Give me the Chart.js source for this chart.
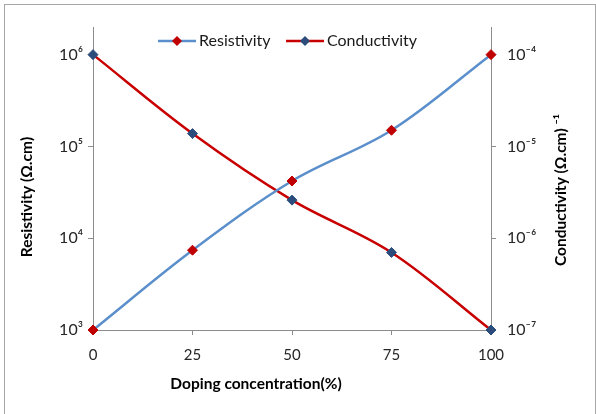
<!DOCTYPE html>
<html>
<head>
<meta charset="utf-8">
<script src="https://cdn.jsdelivr.net/npm/chart.js@4.4.1/dist/chart.umd.min.js"></script>
<style>
  html, body { margin: 0; padding: 0; background: #fff; }
  #frame { position: absolute; left: 4px; top: 4px; width: 590px; height: 420px; border: 1px solid #a6a6a6; }
  #wrap { position: absolute; left: 0; top: 0; width: 596px; height: 414px; }
</style>
</head>
<body>
<div id="frame"></div>
<div id="wrap"><canvas id="chart" width="596" height="414"></canvas></div>
<script>
"use strict";

// doping concentration (%)
const doping = [0, 25, 50, 75, 100];
// values
const resistivity = [1e3, 7.4e3, 4.2e4, 1.5e5, 1e6];
const conductivity = [1e-4, 1.38e-5, 2.6e-6, 7.0e-7, 1e-7];

const leftTicks = [1e3, 1e4, 1e5, 1e6];
const leftLabels = ["10³", "10⁴", "10⁵", "10⁶"];
const rightTicks = [1e-7, 1e-6, 1e-5, 1e-4];
const rightLabels = ["10⁻⁷", "10⁻⁶", "10⁻⁵", "10⁻⁴"];
const xTicks = [0, 25, 50, 75, 100];

const blueLine = "#5b8fcb";
const redLine = "#c80000";
const redMark = "#c00000";
const blueMark = "#2c4d7c";
const axisGray = "#8c8c8c";
const FONT = "Lato, 'Open Sans', 'Noto Sans', sans-serif";

// legend + axis titles drawn where the original had them (floating over plot)
const overlay = {
    id: "overlay",
    afterDraw(chart) {
        const ctx = chart.ctx;
        ctx.save();
        // legend
        const items = [
            { x: 158, text: "Resistivity", line: blueLine, mark: redMark },
            { x: 286, text: "Conductivity", line: redLine, mark: blueMark }
        ];
        const ly = 41;
        items.forEach(it => {
            ctx.strokeStyle = it.line;
            ctx.lineWidth = 2.5;
            ctx.beginPath();
            ctx.moveTo(it.x, ly);
            ctx.lineTo(it.x + 38, ly);
            ctx.stroke();
            ctx.fillStyle = it.mark;
            ctx.beginPath();
            ctx.moveTo(it.x + 19, ly - 5);
            ctx.lineTo(it.x + 24, ly);
            ctx.lineTo(it.x + 19, ly + 5);
            ctx.lineTo(it.x + 14, ly);
            ctx.closePath();
            ctx.fill();
            ctx.fillStyle = "#1a1a1a";
            ctx.font = "16px " + FONT;
            ctx.textBaseline = "middle";
            ctx.textAlign = "left";
            ctx.fillText(it.text, it.x + 41, ly);
        });

        // axis titles
        ctx.fillStyle = "#000";
        ctx.font = "bold 15.5px " + FONT;
        ctx.textAlign = "center";
        ctx.textBaseline = "middle";
        ctx.fillText("Doping concentration(%)", 256, 384);

        ctx.save();
        ctx.translate(27, 197);
        ctx.rotate(-Math.PI / 2);
        ctx.fillText("Resistivity (Ω.cm)", 0, 0);
        ctx.restore();

        ctx.save();
        ctx.translate(561, 190);
        ctx.rotate(-Math.PI / 2);
        ctx.fillText("Conductivity (Ω.cm) ⁻¹", 0, 0);
        ctx.restore();

        ctx.restore();
    }
};

new Chart(document.getElementById("chart").getContext("2d"), {
    type: "line",
    data: {
        labels: doping,
        datasets: [
            {
                label: "Resistivity",
                data: doping.map((d, i) => ({ x: d, y: resistivity[i] })),
                yAxisID: "y",
                borderColor: blueLine,
                borderWidth: 2.5,
                pointStyle: "rectRot",
                pointRadius: 5,
                pointBackgroundColor: redMark,
                pointBorderColor: redMark,
                pointBorderWidth: 1,
                tension: 0.35,
                clip: false,
                fill: false
            },
            {
                label: "Conductivity",
                data: doping.map((d, i) => ({ x: d, y: conductivity[i] })),
                yAxisID: "y2",
                borderColor: redLine,
                borderWidth: 2.5,
                pointStyle: "rectRot",
                pointRadius: 5,
                pointBackgroundColor: blueMark,
                pointBorderColor: blueMark,
                pointBorderWidth: 1,
                tension: 0.35,
                clip: false,
                fill: false
            }
        ]
    },
    options: {
        responsive: false,
        animation: false,
        layout: { padding: { top: 27, left: 0, right: 0, bottom: 0 } },
        plugins: {
            legend: { display: false },
            tooltip: { enabled: false }
        },
        scales: {
            x: {
                type: "linear",
                min: 0,
                max: 100,
                afterBuildTicks: s => { s.ticks = xTicks.map(v => ({ value: v })); },
                afterFit: s => { s.height = 84; },
                border: { display: true, color: axisGray, width: 1 },
                grid: { drawOnChartArea: false, drawTicks: true, tickLength: 5, color: axisGray },
                ticks: { color: "#262626", font: { family: FONT, size: 15 }, padding: 11, maxRotation: 0 }
            },
            y: {
                type: "logarithmic",
                position: "left",
                min: 1e3,
                max: 2e6,
                afterBuildTicks: s => { s.ticks = leftTicks.map(v => ({ value: v })); },
                afterFit: s => { s.width = 93; },
                border: { display: true, color: axisGray, width: 1 },
                grid: { drawOnChartArea: false, drawTicks: true, tickLength: 5, color: axisGray },
                ticks: {
                    color: "#262626",
                    font: { family: FONT, size: 16 },
                    padding: 5,
                    callback: v => leftLabels[leftTicks.indexOf(v)]
                }
            },
            y2: {
                type: "logarithmic",
                position: "right",
                min: 1e-7,
                max: 2e-4,
                afterBuildTicks: s => { s.ticks = rightTicks.map(v => ({ value: v })); },
                afterFit: s => { s.width = 105; },
                border: { display: true, color: axisGray, width: 1 },
                grid: { drawOnChartArea: false, drawTicks: true, tickLength: 5, color: axisGray },
                ticks: {
                    color: "#262626",
                    font: { family: FONT, size: 16 },
                    padding: 11,
                    callback: v => rightLabels[rightTicks.findIndex(t => Math.abs(t - v) / t < 1e-6)]
                }
            }
        }
    },
    plugins: [overlay]
});
</script>
</body>
</html>
